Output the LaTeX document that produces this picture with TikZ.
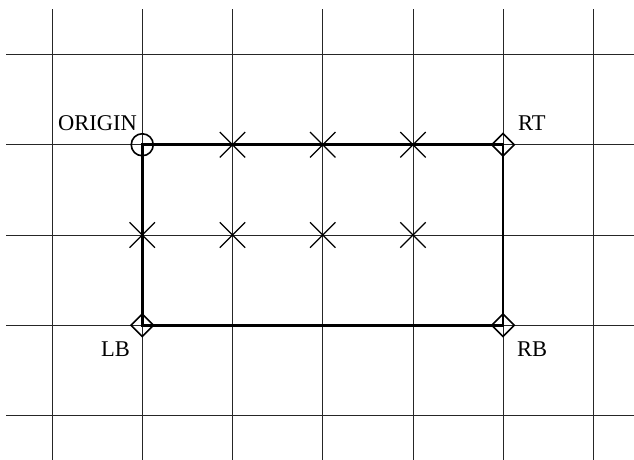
\documentclass[tikz,border=0pt]{standalone}
\usepackage{fontspec}
\setmainfont{Liberation Serif}
\usetikzlibrary{shapes.geometric,shapes.misc}
\begin{document}
\begin{tikzpicture}[x=1pt,y=-1pt,
  gridline/.style={line width=0.9pt,black!85},
  rectline/.style={line width=2.6pt,black},
  circmark/.style={circle,draw,line width=1.6pt,minimum size=22pt,inner sep=0pt},
  diamark/.style={diamond,draw,line width=1.6pt,minimum size=23pt,inner sep=0pt},
  crossmark/.style={cross out,draw,line width=1.4pt,minimum size=24pt,inner sep=0pt},
  lab/.style={inner sep=0pt,anchor=base west,font=\fontsize{22.5}{26}\selectfont}]
\useasboundingbox (0,0) rectangle (634,460);
% grid
\foreach \i in {0,...,6} {
  \draw[gridline] ({52+\i*90.25},9.5) -- ({52+\i*90.25},460);
}
\foreach \j in {0,...,4} {
  \draw[gridline] (6,{54.5+\j*90.25}) -- (634,{54.5+\j*90.25});
}
% corner markers
\node[circmark] (O) at (142.25,144.75) {};
\node[diamark] (RT) at (503,144.75) {};
\node[diamark] (LB) at (142.25,325.25) {};
\node[diamark] (RB) at (503,325.25) {};
% rectangle
\draw[rectline] (O.center) -- (RT.center) -- (RB.center) -- (LB.center) -- cycle;
% crosses
\node[crossmark] (c1) at (232.5,144.75) {};
\node[crossmark] (c2) at (322.75,144.75) {};
\node[crossmark] (c3) at (413,144.75) {};
\node[crossmark] (c4) at (142.25,235) {};
\node[crossmark] (c5) at (232.5,235) {};
\node[crossmark] (c6) at (322.75,235) {};
\node[crossmark] (c7) at (413,235) {};
% labels
\node[lab] (tO) at (58,130) {ORIGIN};
\node[lab] (tRT) at (518,130) {RT};
\node[lab] (tLB) at (101,356) {LB};
\node[lab] (tRB) at (517,356) {RB};
\end{tikzpicture}
\end{document}
